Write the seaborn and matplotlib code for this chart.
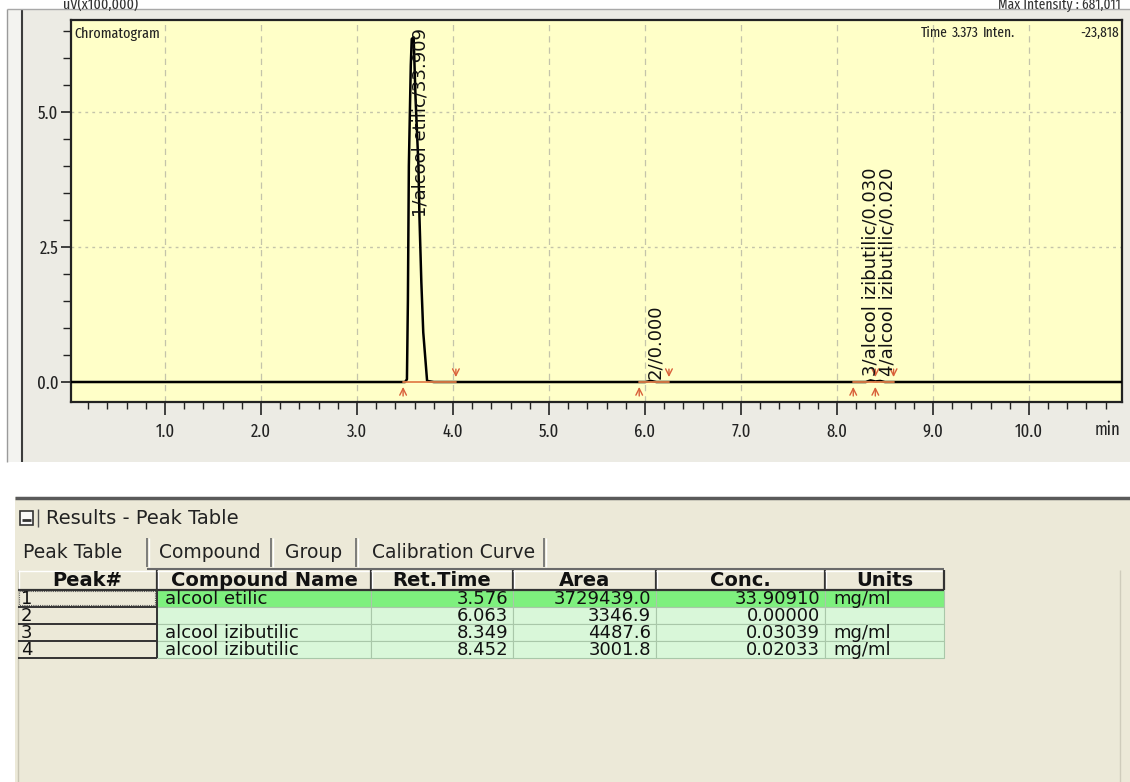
import matplotlib
matplotlib.use("Agg")
import matplotlib.pyplot as plt
from matplotlib import font_manager as fm
from matplotlib.patches import Rectangle
from matplotlib.ticker import MultipleLocator
import seaborn as sns

# chromatogram trace: time (min) and intensity (uV x100,000)
trace_time = [0.02, 3.50, 3.52, 3.53, 3.54, 3.56, 3.57, 3.59, 3.61, 3.64, 3.65,
              3.67, 3.69, 3.73, 3.80, 6.00, 6.06, 6.12, 8.30, 8.35, 8.40, 8.45,
              8.50, 10.97]
trace_inten = [0.0, 0.0, 0.05, 1.5, 4.0, 5.86, 6.35, 6.38, 5.24, 4.0, 3.08,
               1.85, 0.92, 0.02, 0.0, 0.0, 0.02, 0.0, 0.0, 0.03, 0.01, 0.02,
               0.0, 0.0]

# integration marks (min)
peak_start = [3.48, 5.94, 8.17, 8.40]
peak_end = [4.03, 6.25, 8.40, 8.59]

# peak table
peak_no = [1, 2, 3, 4]
compound = ["alcool etilic", "", "alcool izibutilic", "alcool izibutilic"]
ret_time = [3.576, 6.063, 8.349, 8.452]
area = [3729439.0, 3346.9, 4487.6, 3001.8]
conc = [33.90910, 0.00000, 0.03039, 0.02033]
units = ["mg/ml", "", "mg/ml", "mg/ml"]

table_cols = ["Peak#", "Compound Name", "Ret.Time", "Area", "Conc.", "Units"]
tabs = ["Peak Table", "Compound", "Group", "Calibration Curve"]
x_ticks = [1.0, 2.0, 3.0, 4.0, 5.0, 6.0, 7.0, 8.0, 9.0, 10.0]
y_ticks = [0.0, 2.5, 5.0]

sns.set_theme(style="white")
plt.rcParams['font.family'] = ['DejaVu Sans']


# narrowest regular font that is installed, for the chromatogram texts
def pick_narrow():
    regular = [f for f in fm.fontManager.ttflist
               if f.style == 'normal' and f.weight in (400, 'normal', 'regular', 'book')]
    for key in ('extracondensed', 'condensed', 'narrow'):
        for f in regular:
            name = f.fname.lower().replace('-', '').replace('_', '')
            if key in name and 'semi' not in name and 'light' not in name:
                return fm.FontProperties(fname=f.fname)
    for f in regular:
        if f.stretch in ('condensed', 'semi-condensed', 'extra-condensed'):
            return fm.FontProperties(fname=f.fname)
    return fm.FontProperties(family='Liberation Sans')


narrow = pick_narrow()


def nfp(size):
    p = narrow.copy()
    p.set_size(size)
    return p


W, H = 1130, 782
fig = plt.figure(figsize=(W / 100, H / 100), dpi=100, facecolor='white')

ui = fig.add_axes([0, 0, 1, 1])
ui.set_xlim(0, W)
ui.set_ylim(H, 0)
ui.axis('off')


def box(x0, y0, x1, y1, **kw):
    ui.add_patch(Rectangle((x0, y0), x1 - x0, y1 - y0, **kw))


def hline(x0, x1, y, **kw):
    ui.plot([x0, x1], [y, y], solid_capstyle='butt', **kw)


def vline(x, y0, y1, **kw):
    ui.plot([x, x], [y0, y1], solid_capstyle='butt', **kw)


# chromatogram window
box(7, 9, W, 462, fc='#f3f3f0', ec='none')
box(22, 9, W, 462, fc='#ecebe4', ec='none')
vline(7, 9, 462, color='#9a9a9a', lw=1)
vline(22, 9, 462, color='#3c3c3c', lw=1.5)
hline(7, W, 9, color='#a8a8a8', lw=1)
ui.text(63, 9, "uV(x100,000)", fontproperties=nfp(11), va='baseline', color='#333333')
ui.text(1121, 9, "Max Intensity : 681,011", fontproperties=nfp(10.5), va='baseline',
        ha='right', color='#333333')

# chromatogram axes
ax = fig.add_axes([71 / W, 1 - 402 / H, (1122 - 71) / W, (402 - 20) / H])
ax.set_facecolor('#ffffc8')
for x in x_ticks:
    ax.axvline(x, color='#c4c4aa', lw=0.9, ls=(0, (5, 4)), zorder=0.5)
for y in y_ticks[1:]:
    ax.axhline(y, color='#c4c4aa', lw=1.0, ls=(0, (2, 3)), zorder=0.5)

sns.lineplot(x=trace_time, y=trace_inten, ax=ax, color='black', lw=1.8, zorder=3)

for s, e in zip(peak_start, peak_end):
    ax.plot([s, e], [0.0, 0.0], color='#e2804a', lw=1.3, zorder=4)
for s in peak_start:
    ax.annotate('', xy=(s, -0.04), xytext=(s, -0.31),
                arrowprops=dict(arrowstyle='->', color='#d9603a', lw=1.0), zorder=5)
for e in peak_end:
    ax.annotate('', xy=(e, 0.04), xytext=(e, 0.29),
                arrowprops=dict(arrowstyle='->', color='#d9603a', lw=1.0), zorder=5)

label_dx = [0.085, 0.045, 0.0, 0.07]
label_y = [3.06, 0.05, 0.12, 0.12]
for i in range(len(peak_no)):
    lab = f"{peak_no[i]}/{compound[i]}/{conc[i]:.3f}"
    ax.text(ret_time[i] + label_dx[i], label_y[i], lab, rotation=90,
            ha='center', va='bottom', fontsize=13, color='#111111', zorder=6)

ax.set_xlim(0.02, 10.97)
ax.set_ylim(-0.37, 6.70)
ax.set_xticks(x_ticks)
ax.set_xticklabels([f"{v:.1f}" for v in x_ticks], fontproperties=nfp(13))
ax.set_yticks(y_ticks)
ax.set_yticklabels([f"{v:.1f}" for v in y_ticks], fontproperties=nfp(13))
ax.xaxis.set_minor_locator(MultipleLocator(0.2))
ax.yaxis.set_minor_locator(MultipleLocator(0.5))
ax.tick_params(axis='x', which='major', direction='out', length=9, width=1.2,
               pad=6, bottom=True, colors='#222222')
ax.tick_params(axis='x', which='minor', direction='out', length=5, width=1.0,
               bottom=True, color='#222222')
ax.tick_params(axis='y', which='major', direction='out', length=7, width=1.2,
               pad=2, left=True, colors='#222222')
ax.tick_params(axis='y', which='minor', direction='out', length=6, width=1.0,
               left=True, color='#222222')
for sp in ax.spines.values():
    sp.set_color('#222222')
    sp.set_linewidth(1.6)
ax.set_xlabel('')
ax.set_ylabel('')
ax.text(10.82, -0.072, 'min', transform=ax.get_xaxis_transform(), fontproperties=nfp(13),
        ha='center', va='center', color='#222222')
ax.text(0.003, 0.965, 'Chromatogram', transform=ax.transAxes, fontproperties=nfp(11),
        va='center', color='#222222')
ax.text(921, 33, 'Time', transform=ui.transData, fontproperties=nfp(10.5),
        va='center', color='#222222')
ax.text(952, 33, '3.373', transform=ui.transData, fontproperties=nfp(10.5),
        va='center', color='#222222')
ax.text(983, 33, 'Inten.', transform=ui.transData, fontproperties=nfp(10.5),
        va='center', color='#222222')
ax.text(1119, 33, '-23,818', transform=ui.transData, fontproperties=nfp(10.5),
        va='center', ha='right', color='#222222')

# results panel
box(15, 497, W, H, fc='#ece9d8', ec='none')
hline(15, W, 497.5, color='#5a5a5a', lw=2.5)
vline(18, 570, H, color='#c8c5b4', lw=1)
vline(1120, 570, H, color='#cfccbc', lw=1)
box(20, 511, 33, 525, fc='#f8f8f8', ec='#333333', lw=1.2)
hline(22, 31, 520, color='#333333', lw=2)
vline(38, 509, 527, color='#555555', lw=1)
ui.text(46, 518, "Results - Peak Table", fontsize=14, va='center', color='#222222')

tab_x = [23, 159, 285, 372]
tab_sep = [147, 271, 356, 544]
for i, t in enumerate(tabs):
    ui.text(tab_x[i], 552, t, fontsize=13.5, ha='left', va='center', color='#222222')
    vline(tab_sep[i], 538, 567, color='#6a6a6a', lw=1.2)
    vline(tab_sep[i] + 2, 538, 567, color='white', lw=1)
hline(147, 944, 569, color='#6a6a6a', lw=1.5)

col_edges = [18, 157, 371, 513, 656, 825, 944]
head_top, head_bot = 570, 590
row_h = 17

for j, name in enumerate(table_cols):
    x0, x1 = col_edges[j], col_edges[j + 1]
    box(x0, head_top, x1, head_bot, fc='#ece9d8', ec='none')
    hline(x0, x1, head_top + 0.5, color='white', lw=1)
    vline(x0 + 0.5, head_top, head_bot, color='white', lw=1)
    hline(x0, x1, head_bot - 0.5, color='#333333', lw=1.6)
    vline(x1 - 0.5, head_top, head_bot, color='#333333', lw=1.6)
    ui.text((x0 + x1) / 2, (head_top + head_bot) / 2 + 1, name, fontsize=14,
            fontweight='bold', ha='center', va='center', color='#111111')

for i in range(len(peak_no)):
    y0 = head_bot + i * row_h
    y1 = y0 + row_h
    cells = [str(peak_no[i]), compound[i], f"{ret_time[i]:.3f}",
             f"{area[i]:.1f}", f"{conc[i]:.5f}", units[i]]
    for j, val in enumerate(cells):
        x0, x1 = col_edges[j], col_edges[j + 1]
        if j == 0:
            box(x0, y0, x1, y1, fc='#ece9d8', ec='none')
            hline(x0, x1, y1 - 0.5, color='#333333', lw=1.4)
            vline(x1 - 0.5, y0, y1, color='#333333', lw=1.4)
            if i == 0:
                box(x0 + 1, y0 + 1, x1 - 2, y1 - 2, fc='none', ec='#555555',
                    lw=0.8, ls=(0, (1, 1)))
        else:
            fc = '#7ef07e' if i == 0 else '#d9f7d9'
            box(x0, y0, x1, y1, fc=fc, ec='#a9c7a9', lw=0.8)
        cy = (y0 + y1) / 2 + 0.5
        if j == 0:
            ui.text(x0 + 3, cy, val, fontsize=13, ha='left', va='center', color='#111111')
        elif j in (1, 5):
            ui.text(x0 + 8, cy, val, fontsize=13, ha='left', va='center', color='#111111')
        else:
            ui.text(x1 - 5, cy, val, fontsize=13, ha='right', va='center', color='#111111')

fig.savefig('out.png', dpi=100, facecolor='white')
